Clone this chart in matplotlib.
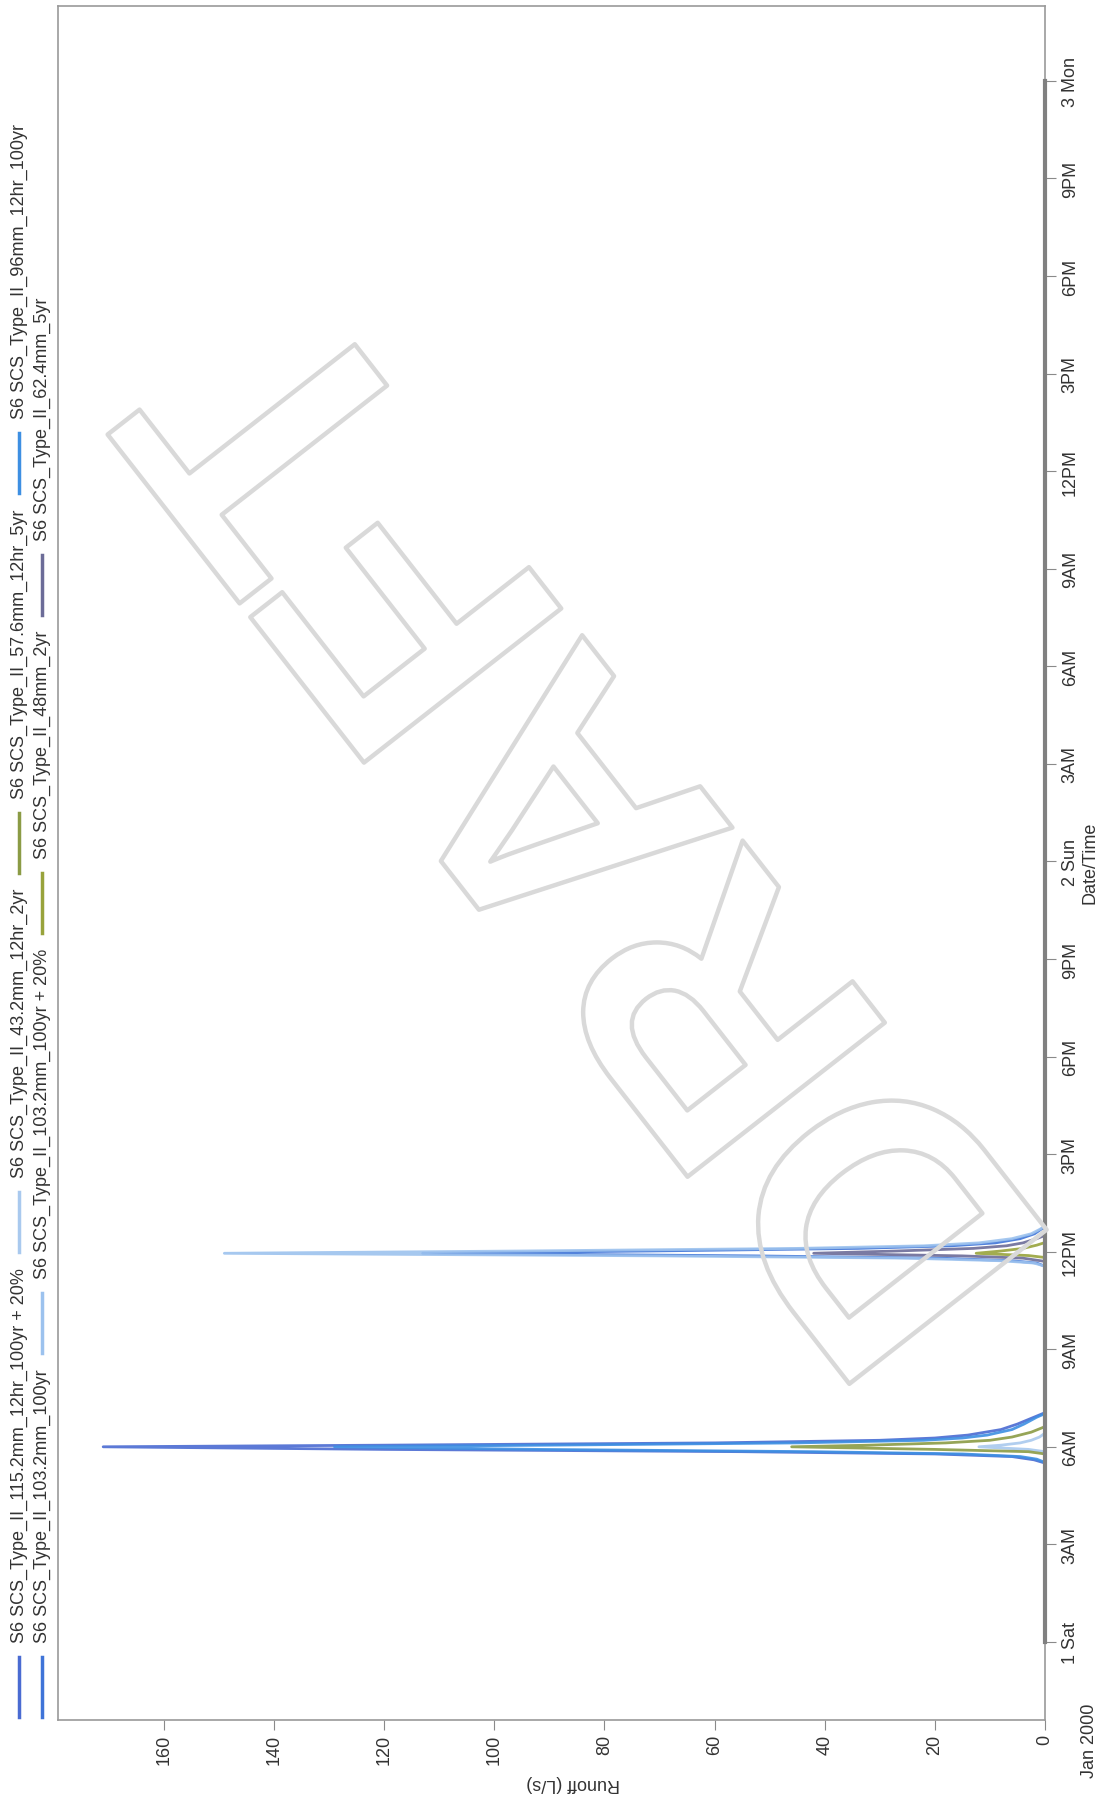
import numpy as np
import matplotlib.pyplot as plt
import matplotlib.patheffects as pe
from matplotlib.lines import Line2D
from matplotlib.transforms import IdentityTransform

plt.rcParams['font.family'] = ['Liberation Sans', 'DejaVu Sans']

# series (time in hours since 1 Jan 00:00, runoff in L/s)
names = ['S6 SCS_Type_II_115.2mm_12hr_100yr + 20%',
         'S6 SCS_Type_II_103.2mm_100yr',
         'S6 SCS_Type_II_43.2mm_12hr_2yr',
         'S6 SCS_Type_II_103.2mm_100yr + 20%',
         'S6 SCS_Type_II_57.6mm_12hr_5yr',
         'S6 SCS_Type_II_48mm_2yr',
         'S6 SCS_Type_II_96mm_12hr_100yr',
         'S6 SCS_Type_II_62.4mm_5yr']
colors = ['#4a6bd2', '#3f74d8', '#a9c9ee', '#9cc2ee',
          '#8b9b45', '#98a33c', '#3d8fe2', '#6c6c98']

t_115_20 = [5.50, 5.60, 5.70, 5.78, 5.85, 5.92, 6.00, 6.05, 6.12, 6.20, 6.27, 6.36, 6.53, 6.70, 6.91, 7.05]
q_115_20 = [0, 2, 6, 20, 55, 120, 171, 120, 60, 30, 20, 14, 8, 5, 2, 0]
t_103 = [11.55, 11.65, 11.72, 11.80, 11.87, 11.95, 12.02, 12.10, 12.18, 12.27, 12.40, 12.55, 12.70, 12.78]
q_103 = [0, 1.5, 6, 19, 53, 113, 72, 34, 17, 9, 4.5, 1.9, 0.6, 0]
t_43 = [5.85, 5.92, 6.00, 6.05, 6.12, 6.20, 6.30, 6.42]
q_43 = [0, 3, 12, 8, 4.5, 2.5, 1, 0]
t_103_20 = [11.55, 11.65, 11.72, 11.80, 11.87, 11.95, 12.02, 12.10, 12.18, 12.27, 12.40, 12.55, 12.70, 12.80]
q_103_20 = [0, 2, 8, 25, 70, 149, 95, 45, 22, 12, 6, 2.5, 0.8, 0]
t_57 = [5.78, 5.85, 5.92, 6.00, 6.05, 6.12, 6.20, 6.30, 6.45, 6.62]
q_57 = [0, 3, 20, 46, 32, 18, 10, 6, 2.5, 0]
t_48 = [11.82, 11.88, 11.95, 12.02, 12.10, 12.20, 12.28]
q_48 = [0, 3, 12.5, 8, 4, 1.5, 0]
t_96 = [5.52, 5.62, 5.70, 5.78, 5.85, 5.92, 6.00, 6.05, 6.12, 6.20, 6.27, 6.36, 6.53, 6.70, 6.91, 7.02]
q_96 = [0, 1.5, 4.5, 15, 42, 92, 129, 90, 45, 22, 15, 10.5, 6, 3.8, 1.5, 0]
t_62 = [11.70, 11.80, 11.87, 11.95, 12.02, 12.10, 12.18, 12.27, 12.40, 12.50]
q_62 = [0, 4, 15, 42, 27, 13, 7, 4, 1.5, 0]

times = [t_115_20, t_103, t_43, t_103_20, t_57, t_48, t_96, t_62]
flows = [q_115_20, q_103, q_43, q_103_20, q_57, q_48, q_96, q_62]

t_start, t_end = 0, 48
hour_ticks = list(range(0, 49, 3))
hour_labels = ['1 Sat', '3AM', '6AM', '9AM', '12PM', '3PM', '6PM', '9PM',
               '2 Sun', '3AM', '6AM', '9AM', '12PM', '3PM', '6PM', '9PM', '3 Mon']
runoff_ticks = list(range(0, 161, 20))

W, H = 1100, 1799
fig = plt.figure(figsize=(W / 100, H / 100), dpi=100)
ax = fig.add_axes([58 / W, 1 - 1721 / H, (1045 - 58) / W, (1721 - 7) / H])

for t, q, c in zip(times, flows, colors):
    tt = [t_start] + t + [t_end]
    qq = [0] + q + [0]
    ax.plot(qq, tt, color=c, lw=2, solid_joinstyle='round', alpha=0.9)

# darker band on the time axis over the data range
ax.plot([0, 0], [t_start, t_end], color='#808080', lw=3, clip_on=False, zorder=5)

ax.set_xlim(179.2, 0)
ax.set_ylim(-2.4, 50.3)
ax.set_xticks(runoff_ticks)
ax.set_yticks(hour_ticks)
ax.set_yticklabels(hour_labels)
ax.yaxis.tick_right()
for s in ax.spines.values():
    s.set_color('#9a9a9a')
    s.set_linewidth(1.2)
ax.tick_params(axis='x', rotation=90, length=7, color='#8a8a8a', labelsize=13, pad=3,
               labelcolor='#333333')
ax.tick_params(axis='y', rotation=90, length=8, color='#8a8a8a', labelsize=13, pad=4,
               labelcolor='#333333')
for lbl in ax.get_yticklabels():
    lbl.set_va('center')

fig.text(1090 / W, 1 - 863 / H, 'Date/Time', rotation=90, ha='center', va='center',
         fontsize=13, color='#333333')
fig.text(1089 / W, 1 - 1741 / H, 'Jan 2000', rotation=90, ha='center', va='center',
         fontsize=13, color='#333333')
fig.text(573 / W, 1 - 1784 / H, 'Runoff (L/s)', rotation=180, ha='center', va='center',
         fontsize=13, color='#333333')

# legend, laid out along the left edge
fig.canvas.draw()
renderer = fig.canvas.get_renderer()
rows = [[0, 2, 4, 6], [1, 3, 5, 7]]
row_x = [19, 42]
for r, idxs in enumerate(rows):
    y = 1718
    for i in idxs:
        fig.add_artist(Line2D([row_x[r], row_x[r]], [H - y, H - y + 60],
                              transform=IdentityTransform(), color=colors[i], lw=2.5))
        txt = fig.text(row_x[r], H - y + 75, names[i], rotation=90, ha='center', va='bottom',
                       transform=IdentityTransform(), fontsize=13, color='#333333')
        ext = txt.get_window_extent(renderer)
        y = y - 75 - ext.height - 15

# DRAFT watermark
fig.text(608 / W, 1 - 822 / H, 'DRAFT', rotation=128, rotation_mode='anchor',
         ha='center', va='center', fontsize=262, fontweight='bold', color='none',
         path_effects=[pe.withStroke(linewidth=3.2, foreground='#d9d9d9')])

plt.savefig('out.png', dpi=100)
